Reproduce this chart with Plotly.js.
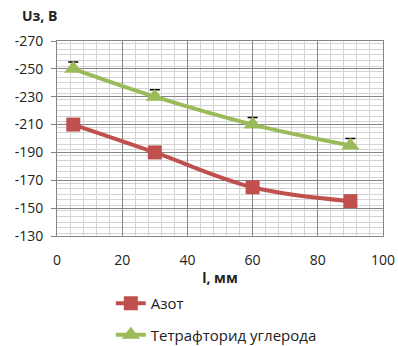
<!DOCTYPE html>
<html><head><meta charset="utf-8">
<script src="https://cdn.plot.ly/plotly-3.0.1.min.js"></script>
<style>body{margin:0;padding:0;background:#fff}#chart{width:398px;height:346px}</style>
</head><body><div id="chart"></div>
<script>
const lengthMm = [5, 30, 60, 90];
const azotU = [-210, -190, -165, -155];
const tetraU = [-250, -230, -210, -195];
const tetraErrUp = [5, 5, 5, 5];
const tetraErrDown = [0, 0, 0, 0];
const seriesNames = ['Азот', 'Тетрафторид углерода'];
const yTicks = [-270, -250, -230, -210, -190, -170, -150, -130];
const xTicks = [0, 20, 40, 60, 80, 100];

const fam = 'Open Sans, Liberation Sans, sans-serif';
const txt = '#222';

const traces = [
  {x: lengthMm, y: azotU, name: seriesNames[0], mode: 'lines+markers', legendgroup: 'a',
   line: {color: '#C0504D', width: 4, shape: 'spline'},
   marker: {symbol: 'square', size: 14, color: '#C0504D'}},
  {x: lengthMm, y: tetraU, name: seriesNames[1], mode: 'lines+markers', legendgroup: 'b',
   line: {color: '#9BBB59', width: 4, shape: 'spline'},
   marker: {symbol: 'triangle-up', size: 16, color: '#9BBB59'},
   error_y: {type: 'data', symmetric: false, array: tetraErrDown, arrayminus: tetraErrUp,
             visible: true, color: '#000', thickness: 1.5, width: 5}}
];

const layout = {
  width: 398, height: 346,
  margin: {l: 57, r: 15, t: 41, b: 110, autoexpand: false},
  paper_bgcolor: '#fff', plot_bgcolor: '#fff',
  font: {family: fam, size: 14, color: txt},
  showlegend: true,
  legend: {orientation: 'v', x: 0.165, xanchor: 'left', yref: 'container', y: 1 - 287/346, yanchor: 'top',
           traceorder: 'grouped', tracegroupgap: 9, font: {family: fam, size: 15, color: txt}},
  xaxis: {range: [0, 100], tickvals: xTicks, ticktext: xTicks.map(String),
          showgrid: true, gridcolor: '#868686', gridwidth: 1,
          minor: {dtick: 4, showgrid: true, gridcolor: '#d4d4d4', gridwidth: 1},
          showline: true, linecolor: '#868686', linewidth: 1, mirror: true,
          zeroline: false, ticks: '', automargin: false, ticklabelstandoff: 11,
          tickfont: {family: fam, size: 14, color: txt},
          title: {text: '<b>l, мм</b>', font: {family: fam, size: 14, color: txt}, standoff: 17}},
  yaxis: {range: [-130, -270], tickvals: yTicks, ticktext: yTicks.map(String),
          showgrid: true, gridcolor: '#868686', gridwidth: 1,
          minor: {dtick: 4, showgrid: true, gridcolor: '#d4d4d4', gridwidth: 1},
          showline: true, linecolor: '#868686', linewidth: 1, mirror: true,
          zeroline: false, ticks: 'outside', ticklen: 5, tickcolor: '#868686', automargin: false,
          ticklabelstandoff: 5,
          tickfont: {family: fam, size: 14, color: txt}},
  annotations: [{text: '<b>Uз, В</b>', xref: 'paper', yref: 'paper', x: -0.115, y: 1.13,
                 xanchor: 'left', yanchor: 'middle', showarrow: false,
                 font: {family: fam, size: 14, color: txt}}]
};

Plotly.newPlot('chart', traces, layout, {displayModeBar: false, staticPlot: true});
</script></body></html>
